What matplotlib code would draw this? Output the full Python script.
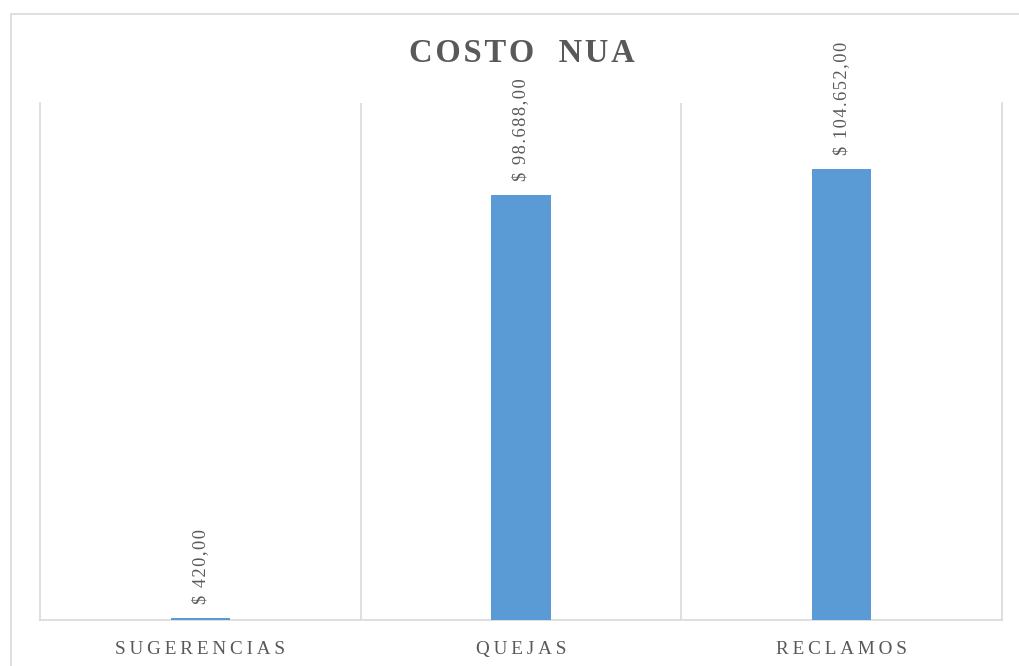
import matplotlib
matplotlib.use("Agg")
import matplotlib.pyplot as plt
from matplotlib.patches import Rectangle

# data
categories = ["SUGERENCIAS", "QUEJAS", "RECLAMOS"]
costs = [420.00, 98688.00, 104652.00]
labels = ["$ 420,00", "$ 98.688,00", "$ 104.652,00"]

plt.rcParams['font.family'] = ['Liberation Serif', 'DejaVu Serif']

def spaced(s, sep="\u2009"):
    # mimic the letter spacing of the original
    return sep.join(s)

fig = plt.figure(figsize=(10.2, 6.66), dpi=100)
ax = fig.add_axes([40 / 1020, 1 - 620 / 666, 962 / 1020, 517 / 666])

x = range(len(categories))
ax.bar(x, costs, width=0.185, color="#5B9BD5", zorder=3)
ax.set_xlim(-0.5, 2.5)
ax.set_ylim(0, 120000)

# labels above the bars
for i, (v, lab) in enumerate(zip(costs, labels)):
    ax.annotate(spaced(lab, "\u200a"), (i, v), xytext=(0, 10),
                textcoords="offset points", rotation=90, ha="center",
                va="bottom", fontsize=13.2, color="#595959")

# vertical separators between categories
for b in [0.5, 1.5]:
    ax.axvline(b, color="#D9D9D9", lw=1.2, zorder=1)
for side in ["left", "right", "bottom"]:
    ax.spines[side].set_color("#D9D9D9")
    ax.spines[side].set_linewidth(1.2)
ax.spines["top"].set_visible(False)

ax.set_yticks([])
ax.set_xticks(list(x))
ax.set_xticklabels([spaced(c) for c in categories], fontsize=13.8,
                   color="#595959")
ax.tick_params(axis="x", length=0, pad=15)

fig.text(522 / 1020, 1 - 54 / 666,
         spaced("COSTO", "\u200a") + "   " + spaced("NUA", "\u200a"),
         ha="center", va="center", fontsize=23.5, fontweight="bold",
         color="#595959")

# chart frame
fig.patches.append(Rectangle((11 / 1020, -0.1), 1.2, 1 - 14 / 666 + 0.1,
                             transform=fig.transFigure, fill=False,
                             edgecolor="#D9D9D9", lw=1.2))

fig.savefig("out.png", dpi=100)
